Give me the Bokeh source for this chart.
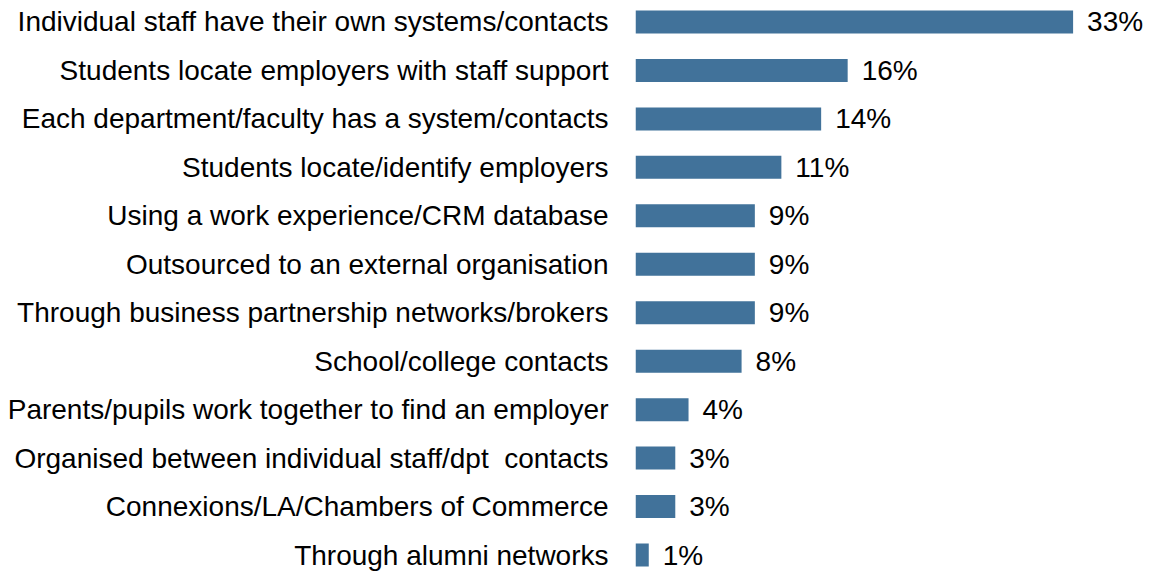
from bokeh.plotting import figure
from bokeh.models import ColumnDataSource, Range1d, FixedTicker, LabelSet
from bokeh.core.properties import value
from bokeh.embed import file_html
from bokeh.resources import INLINE

categories = [
    "Individual staff have their own systems/contacts",
    "Students locate employers with staff support",
    "Each department/faculty has a system/contacts",
    "Students locate/identify employers",
    "Using a work experience/CRM database",
    "Outsourced to an external organisation",
    "Through business partnership networks/brokers",
    "School/college contacts",
    "Parents/pupils work together to find an employer",
    "Organised between individual staff/dpt\u00a0 contacts",
    "Connexions/LA/Chambers of Commerce",
    "Through alumni networks",
]
values = [33, 16, 14, 11, 9, 9, 9, 8, 4, 3, 3, 1]

pos = list(range(len(categories)))
labels = [f"{v}%" for v in values]
src = ColumnDataSource(dict(y=pos, v=values, lab=labels))

W, H = 1158, 572
p = figure(width=W, height=H, output_backend="svg", toolbar_location=None,
           x_range=Range1d(0, 39.44), y_range=Range1d(11.361, -0.4437),
           min_border_left=635, min_border_right=0, min_border_top=0, min_border_bottom=0)

p.hbar(y="y", right="v", left=0, height=0.475, source=src,
       fill_color="#41729A", line_color=None)

p.add_layout(LabelSet(x="v", y="y", text="lab", source=src, x_offset=14,
                      text_baseline="middle", text_align="left",
                      text_font=value("Liberation Sans"), text_font_size=value("28px"),
                      text_color="#000000"))

p.xaxis.visible = False
p.yaxis.ticker = FixedTicker(ticks=pos)
p.yaxis.major_label_overrides = {i: c for i, c in enumerate(categories)}
p.yaxis.axis_line_color = None
p.yaxis.major_tick_line_color = None
p.yaxis.minor_tick_line_color = None
p.yaxis.major_tick_out = 0
p.yaxis.major_tick_in = 0
p.yaxis.major_label_standoff = 27
p.yaxis.major_label_text_font = "Liberation Sans"
p.yaxis.major_label_text_font_size = "28px"
p.yaxis.major_label_text_color = "#000000"
p.xgrid.visible = False
p.ygrid.visible = False
p.outline_line_color = None

open("out.html", "w").write(file_html(p, INLINE))
